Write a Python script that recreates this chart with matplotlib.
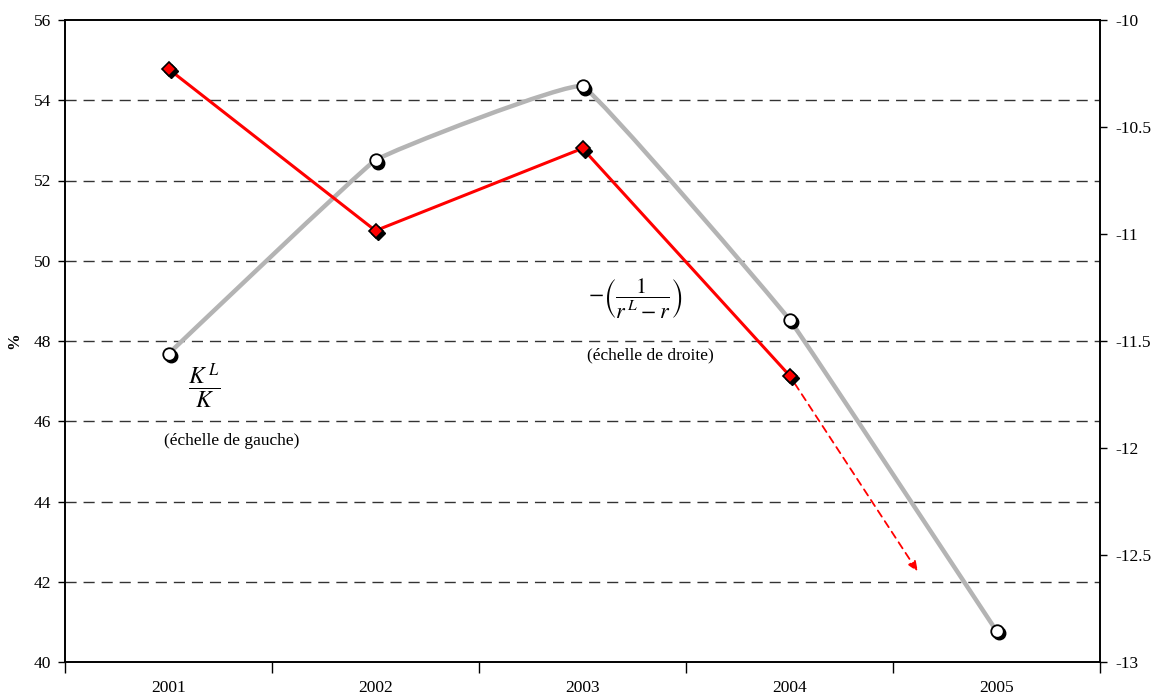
import matplotlib
matplotlib.use("Agg")
import matplotlib.pyplot as plt
import matplotlib.transforms as mtransforms
from matplotlib.path import Path
from matplotlib.patches import PathPatch
import numpy as np

# Data
years = ["2001", "2002", "2003", "2004", "2005"]
kl_share = [54.78, 50.75, 52.80, 47.14]                      # K^L / K, left scale (%)
inv_spread = [-11.56, -10.655, -10.31, -11.40, -12.855]      # -(1/(r^L - r)), right scale
trend_end = [3.62, 42.25]                                    # projected end of K^L/K (x index, %)

left_ticks = [40, 42, 44, 46, 48, 50, 52, 54, 56]
right_ticks = [-13, -12.5, -12, -11.5, -11, -10.5, -10]

plt.rcParams["font.family"] = ["Liberation Serif", "DejaVu Serif"]
plt.rcParams["mathtext.fontset"] = "stix"

fig = plt.figure(figsize=(11.52, 6.96), dpi=100)
ax = fig.add_axes([65 / 1152, 1 - 662 / 696, 1035 / 1152, 642 / 696])
ax2 = ax.twinx()

x = np.arange(len(years))

# Axes frame and ticks
ax.set_xlim(-0.5, len(years) - 0.5)
ax.set_ylim(left_ticks[0], left_ticks[-1])
ax2.set_ylim(right_ticks[0], right_ticks[-1])
ax.set_yticks(left_ticks)
ax.set_yticklabels([str(v) for v in left_ticks])
ax2.set_yticks(right_ticks)
ax2.set_yticklabels([("%g" % v) for v in right_ticks])
ax.set_xticks(x)
ax.set_xticklabels(years)
ax.set_xticks(np.arange(-0.5, len(years)), minor=True)
ax.tick_params(axis="x", which="major", length=0, pad=13, labelsize=12.5)
ax.tick_params(axis="x", which="minor", length=8, width=1, direction="out")
ax.tick_params(axis="y", length=5, width=1, direction="out", labelsize=12.5, pad=5)
ax2.tick_params(axis="y", length=5, width=1, direction="out", labelsize=12.5, pad=6)
for a in (ax, ax2):
    for s in a.spines.values():
        s.set_linewidth(1.2)
        s.set_color("black")

for v in left_ticks[1:-1]:
    ax.axhline(v, color="#333333", lw=1.0, ls=(0, (8, 5)), zorder=1)

ax.set_ylabel("%", fontsize=12, fontweight="bold", labelpad=8)

# Shadow offset for markers
shadow = mtransforms.ScaledTranslation(2.5 / 100, -2.5 / 100, fig.dpi_scale_trans)

# Lightly smoothed grey curve on the right scale (cubic Bezier through the points)
yv = np.array(inv_spread)
pts = np.column_stack([x, yv])
verts = [tuple(pts[0])]
codes = [Path.MOVETO]
n = len(pts)
k = 1.0 / 30.0
for i in range(n - 1):
    p0 = pts[max(i - 1, 0)]
    p1 = pts[i]
    p2 = pts[i + 1]
    p3 = pts[min(i + 2, n - 1)]
    c1 = p1 + (p2 - p0) * k
    c2 = p2 - (p3 - p1) * k
    verts += [tuple(c1), tuple(c2), tuple(p2)]
    codes += [Path.CURVE4] * 3
ax2.add_patch(PathPatch(Path(verts, codes), fill=False, edgecolor="#b4b4b4",
                        lw=3.2, zorder=3, capstyle="round", joinstyle="round"))
ax2.plot(x, yv, ls="none", marker="o", ms=9, mfc="black", mec="black",
         transform=ax2.transData + shadow, zorder=4)
ax2.plot(x, yv, ls="none", marker="o", ms=9, mfc="white", mec="black",
         mew=1.3, zorder=5)

# Red series on the left scale (mapped onto the right axes for drawing order)
ax2.set_zorder(ax.get_zorder() + 1)
ax2.patch.set_visible(False)
lo, hi = (left_ticks[0], left_ticks[-1]), (right_ticks[0], right_ticks[-1])
xr = x[:len(kl_share)]
red_r = [np.interp(v, lo, hi) for v in kl_share]
ax2.plot(xr, red_r, color="red", lw=2.2, zorder=6)
ax2.plot(xr, red_r, ls="none", marker="D", ms=7, mfc="black", mec="black",
         transform=ax2.transData + shadow, zorder=7)
ax2.plot(xr, red_r, ls="none", marker="D", ms=7, mfc="red", mec="black",
         mew=1.2, zorder=8)

# Projected continuation (dashed arrow)
end_r = np.interp(trend_end[1], lo, hi)
ax2.annotate("", xy=(trend_end[0], end_r), xytext=(xr[-1], red_r[-1]),
             arrowprops=dict(arrowstyle="-|>,head_length=0.6,head_width=0.25",
                             color="red", lw=1.3, ls=(0, (4, 3)),
                             shrinkA=7, shrinkB=0), zorder=6)

# Series labels
ax.text(0.135, 0.43, r"$\dfrac{K^{\,L}}{K}$", transform=ax.transAxes,
        fontsize=17, ha="center", va="center")
ax.text(0.161, 0.345, "(échelle de gauche)", transform=ax.transAxes,
        fontsize=12.5, ha="center", va="center")
ax.text(0.551, 0.565, r"$-\left(\dfrac{1}{r^{\,L}-r}\right)$", transform=ax.transAxes,
        fontsize=16, ha="center", va="center")
ax.text(0.566, 0.477, "(échelle de droite)", transform=ax.transAxes,
        fontsize=12.5, ha="center", va="center")

fig.savefig("out.png", dpi=100)
